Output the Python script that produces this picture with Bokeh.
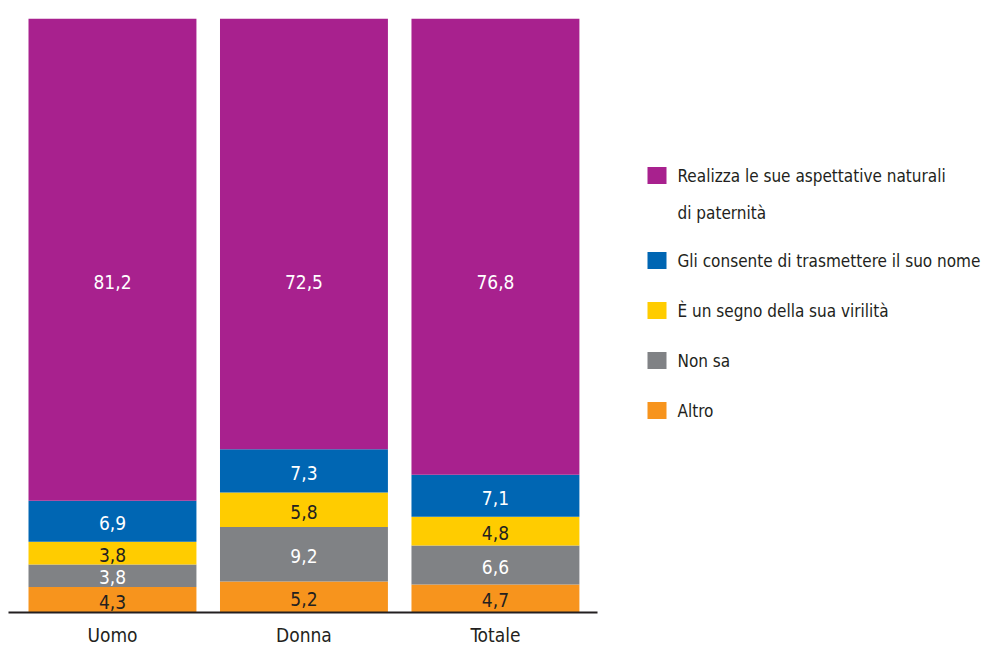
from bokeh.plotting import figure
from bokeh.layouts import row
from bokeh.models import Range1d, FixedTicker, ColumnDataSource
from bokeh.core.properties import value
from bokeh.embed import file_html
from bokeh.resources import INLINE

categories = ["Uomo", "Donna", "Totale"]
series_names = [
    "Altro",
    "Non sa",
    "È un segno della sua virilità",
    "Gli consente di trasmettere il suo nome",
    "Realizza le sue aspettative naturali\ndi paternità",
]
altro = [4.3, 5.2, 4.7]
non_sa = [3.8, 9.2, 6.6]
virilita = [3.8, 5.8, 4.8]
nome = [6.9, 7.3, 7.1]
realizza = [81.2, 72.5, 76.8]

series = [altro, non_sa, virilita, nome, realizza]
colors = ["#F7941D", "#808285", "#FFCC00", "#0066B3", "#A8218E"]
label_colors = ["#231F20", "#FFFFFF", "#231F20", "#FFFFFF", "#FFFFFF"]
FONT = "'DejaVu Sans Condensed', 'Liberation Sans Narrow', Roboto"
DARK = "#231F20"

W, H = 608, 649
TOP, BOTTOM = 18, 37
p = figure(width=W, height=H, output_backend="svg", toolbar_location=None,
           x_range=Range1d(-0.543, 2.533), y_range=Range1d(0, 100),
           min_border_left=8, min_border_right=11, min_border_top=TOP,
           min_border_bottom=BOTTOM)
p.outline_line_color = None
p.grid.visible = False
p.yaxis.visible = False
p.background_fill_color = "white"
p.border_fill_color = "white"

xs = list(range(len(categories)))
bottoms = [0.0] * len(categories)
for vals, col, lc in zip(series, colors, label_colors):
    tops = [b + v for b, v in zip(bottoms, vals)]
    src = ColumnDataSource(dict(x=xs, bottom=bottoms, top=tops))
    p.vbar(x="x", bottom="bottom", top="top", width=0.877, source=src,
           fill_color=col, line_color=None)
    if vals is realizza:
        ly = [55.6 for _ in vals]
    else:
        ly = [(b + t) / 2 - 0.3 for b, t in zip(bottoms, tops)]
    txt = [f"{v:.1f}".replace(".", ",") for v in vals]
    lsrc = ColumnDataSource(dict(x=xs, y=ly, t=txt))
    p.text(x="x", y="y", text="t", source=lsrc, text_align="center",
           text_baseline="middle", text_color=lc, text_font=value(FONT),
           text_font_size="19px")
    bottoms = tops

ax = p.xaxis[0]
ax.ticker = FixedTicker(ticks=xs)
ax.major_label_overrides = {i: c for i, c in enumerate(categories)}
ax.axis_line_color = DARK
ax.axis_line_width = 2
ax.major_tick_line_color = None
ax.minor_tick_line_color = None
ax.major_tick_out = 0
ax.major_tick_in = 0
ax.major_label_text_font = FONT
ax.major_label_text_font_size = "19px"
ax.major_label_text_color = DARK
ax.major_label_standoff = 11

# legend panel (its coordinates follow the page's pixels)
LW = 380
lg = figure(width=LW, height=H, output_backend="svg", toolbar_location=None,
            x_range=Range1d(0, LW), y_range=Range1d(H - BOTTOM, TOP),
            min_border_left=0, min_border_right=0,
            min_border_top=TOP, min_border_bottom=BOTTOM)
lg.outline_line_color = None
lg.grid.visible = False
lg.axis.visible = False

order = list(range(len(series_names)))[::-1]
y = 175.0
sq_x, sq_y, sq_c, tx, ty, tt = [], [], [], [], [], []
for i in order:
    lines = series_names[i].split("\n")
    sq_x.append(48.5)
    sq_y.append(y)
    sq_c.append(colors[i])
    for k, ln in enumerate(lines):
        tx.append(69)
        ty.append(y + 37 * k)
        tt.append(ln)
    y += 50 + 35 * (len(lines) - 1)

lg.rect(x=sq_x, y=sq_y, width=19, height=17, fill_color=sq_c, line_color=None)
lg.text(x=tx, y=ty, text=tt, text_align="left", text_baseline="middle",
        text_color=DARK, text_font=value(FONT), text_font_size="17px")

layout = row(p, lg)
open("out.html", "w").write(file_html(layout, INLINE))
